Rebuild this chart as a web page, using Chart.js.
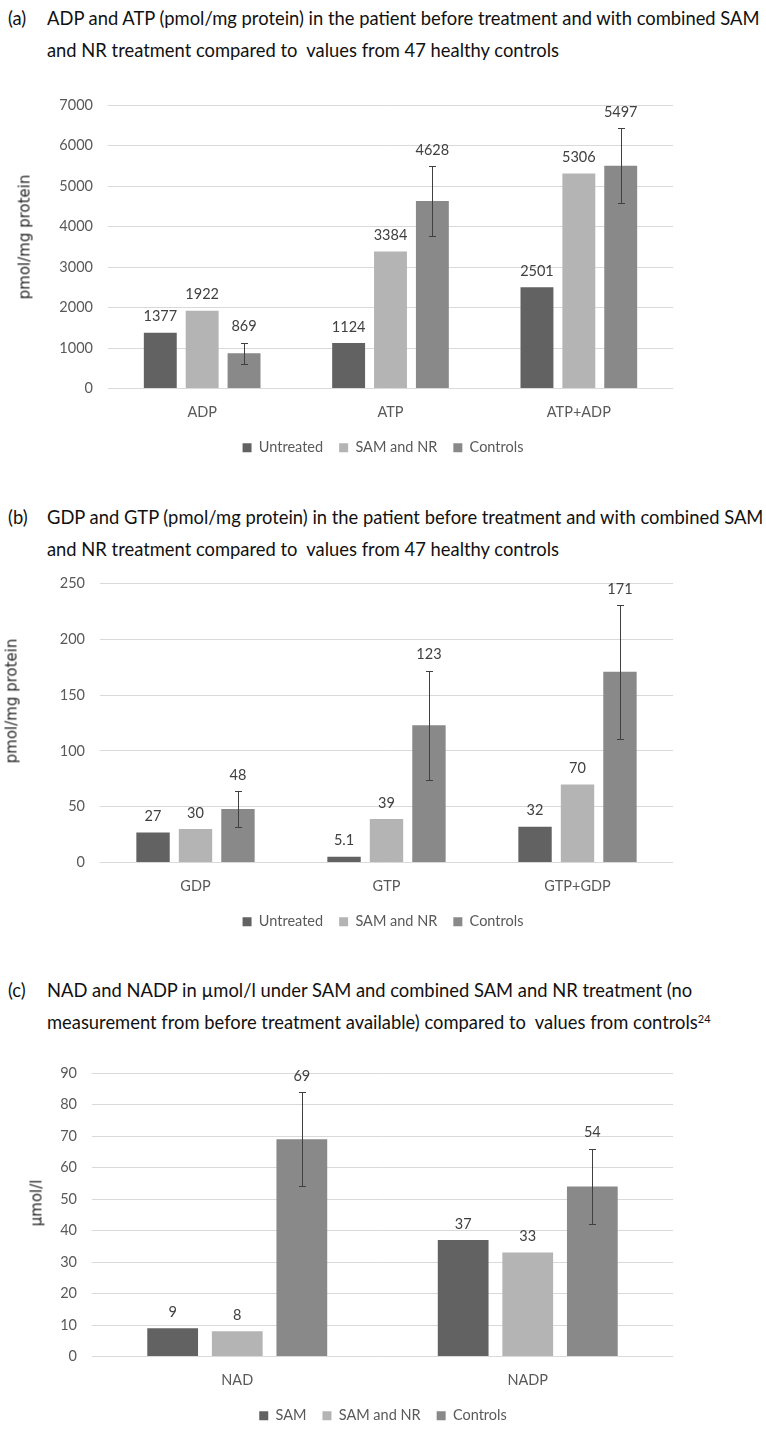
<!DOCTYPE html>
<html>
<head>
<meta charset="utf-8">
<script src="https://cdn.jsdelivr.net/npm/chart.js@4.4.1/dist/chart.umd.min.js"></script>
<style>
html,body{margin:0;padding:0;background:#fff;}
body{width:766px;height:1444px;position:relative;overflow:hidden;}
.t{position:absolute;white-space:pre;color:#111;font-family:Lato,"Noto Sans",sans-serif;line-height:1;transform:translateY(-50%);}
.t sup{font-size:60%;vertical-align:0.55em;line-height:0;}
.yt{position:absolute;white-space:nowrap;font-family:"DejaVu Sans",sans-serif;font-size:15px;color:#262626;line-height:1;transform:translate(-50%,-50%) rotate(-90deg);}
canvas{position:absolute;left:0;}
</style>
</head>
<body>
<div class="t" style="left:8px;top:18px">(a)</div>
<div class="t" style="left:47px;top:18px">ADP and ATP (pmol/mg protein) in the patient before treatment and with combined SAM</div>
<div class="t" style="left:47px;top:50px">and NR treatment compared to  values from 47 healthy controls</div>

<div class="t" style="left:8px;top:517px">(b)</div>
<div class="t" style="left:47px;top:517px">GDP and GTP (pmol/mg protein) in the patient before treatment and with combined SAM</div>
<div class="t" style="left:47px;top:549px">and NR treatment compared to  values from 47 healthy controls</div>

<div class="t" style="left:8px;top:990px">(c)</div>
<div class="t" style="left:47px;top:990px">NAD and NADP in µmol/l under SAM and combined SAM and NR treatment (no</div>
<div class="t" style="left:47px;top:1022px">measurement from before treatment available) compared to  values from controls<sup>24</sup></div>

<canvas id="ca" width="766" height="390" style="top:80px"></canvas>
<canvas id="cb" width="766" height="390" style="top:560px"></canvas>
<canvas id="cc" width="766" height="390" style="top:1049px"></canvas>

<div class="yt" style="left:25px;top:237px">pmol/mg protein</div>
<div class="yt" style="left:12px;top:701px">pmol/mg protein</div>
<div class="yt" style="left:37px;top:1203px">µmol/l</div>

<script>
// ---------- data ----------
const seriesNamesAB = ['Untreated', 'SAM and NR', 'Controls'];
const seriesNamesC = ['SAM', 'SAM and NR', 'Controls'];

const categoriesA = ['ADP', 'ATP', 'ATP+ADP'];
const untreatedA = [1377, 1124, 2501];
const samNrA = [1922, 3384, 5306];
const controlsA = [869, 4628, 5497];
const controlsSdA = [265, 862, 925];
const yTicksA = [0, 1000, 2000, 3000, 4000, 5000, 6000, 7000];

const categoriesB = ['GDP', 'GTP', 'GTP+GDP'];
const untreatedB = [27, 5.1, 32];
const samNrB = [30, 39, 70];
const controlsB = [48, 123, 171];
const controlsSdB = [16, 49, 60];
const yTicksB = [0, 50, 100, 150, 200, 250];

const categoriesC = ['NAD', 'NADP'];
const samC = [9, 37];
const samNrC = [8, 33];
const controlsC = [69, 54];
const controlsSdC = [15, 12];
const yTicksC = [0, 10, 20, 30, 40, 50, 60, 70, 80, 90];

const colors = ['#626262', '#b4b4b4', '#898989'];

// ---------- title font fit ----------
(function(){
  const c = document.createElement('canvas').getContext('2d');
  c.font = '17px Lato';
  const w = c.measureText('ADP and ATP (pmol/mg protein) in the patient before treatment and with combined SAM').width;
  const size = 17 * 715 / w;
  document.querySelectorAll('.t').forEach(el => el.style.fontSize = size.toFixed(2) + 'px');
})();

const barDecor = {
  id: 'barDecor',
  afterDatasetsDraw(chart, args, opts) {
    const ctx = chart.ctx, ys = chart.scales.y;
    const sd = opts.sd, ei = opts.errIndex;
    const eds = chart.data.datasets[ei];
    const emeta = chart.getDatasetMeta(ei);
    ctx.save();
    ctx.strokeStyle = '#404040';
    ctx.lineWidth = 1;
    emeta.data.forEach((bar, i) => {
      const v = eds.data[i];
      const t = Math.round(ys.getPixelForValue(v + sd[i])) + 0.5;
      const b = Math.round(ys.getPixelForValue(v - sd[i])) + 0.5;
      const x = Math.round(bar.x) + 0.5;
      ctx.beginPath();
      ctx.moveTo(x, t); ctx.lineTo(x, b);
      ctx.moveTo(x - 3.5, t); ctx.lineTo(x + 3.5, t);
      ctx.moveTo(x - 3.5, b); ctx.lineTo(x + 3.5, b);
      ctx.stroke();
    });
    ctx.font = '14.5px Lato';
    ctx.fillStyle = '#404040';
    ctx.textAlign = 'center';
    ctx.textBaseline = 'middle';
    chart.data.datasets.forEach((ds, di) => {
      chart.getDatasetMeta(di).data.forEach((bar, i) => {
        let top = bar.y;
        if (di === ei) top = Math.min(top, ys.getPixelForValue(ds.data[i] + sd[i]));
        ctx.fillText(String(ds.data[i]), bar.x, top - 16);
      });
    });
    ctx.restore();
  }
};

function makeChart(id, labels, names, series, sd, ticks, L) {
  return new Chart(document.getElementById(id), {
    type: 'bar',
    data: {
      labels: labels,
      datasets: series.map((d, i) => ({
        label: names[i], data: d, backgroundColor: colors[i], borderWidth: 0,
        categoryPercentage: 0.667, barPercentage: 0.786, yAxisID: 'y'
      }))
    },
    options: {
      responsive: false, animation: false, devicePixelRatio: 1,
      layout: { padding: { top: L.top, left: 0, right: 0, bottom: L.bottom } },
      scales: {
        x: {
          grid: { display: false }, border: { display: false },
          ticks: { color: '#595959', font: { family: 'Lato', size: 14.5 }, padding: 7 },
          afterFit: s => { s.height = 36; }
        },
        y: {
          min: ticks[0], max: ticks[ticks.length - 1],
          afterBuildTicks: s => { s.ticks = ticks.map(v => ({ value: v })); },
          grid: { color: '#d9d9d9', lineWidth: 1, drawTicks: false }, border: { display: false },
          ticks: { color: '#595959', font: { family: 'Lato', size: 14.5 }, padding: 15, callback: v => String(v) },
          afterFit: s => { s.width = L.left; }
        },
        yr: {
          position: 'right', display: true,
          grid: { display: false, drawTicks: false }, border: { display: false },
          ticks: { display: false },
          afterFit: s => { s.width = 93; }
        }
      },
      plugins: {
        legend: {
          position: 'bottom',
          labels: { boxWidth: 9, boxHeight: 9, padding: 16, color: '#595959', font: { family: 'Lato', size: 14.5 } }
        },
        tooltip: { enabled: false },
        barDecor: { sd: sd, errIndex: 2 }
      }
    },
    plugins: [barDecor]
  });
}

makeChart('ca', categoriesA, seriesNamesAB, [untreatedA, samNrA, controlsA], controlsSdA, yTicksA, { top: 25, bottom: 5, left: 108 });
makeChart('cb', categoriesB, seriesNamesAB, [untreatedB, samNrB, controlsB], controlsSdB, yTicksB, { top: 19, bottom: 11, left: 100 });
makeChart('cc', categoriesC, seriesNamesC, [samC, samNrC, controlsC], controlsSdC, yTicksC, { top: 24, bottom: 6, left: 92 });
</script>
</body>
</html>
